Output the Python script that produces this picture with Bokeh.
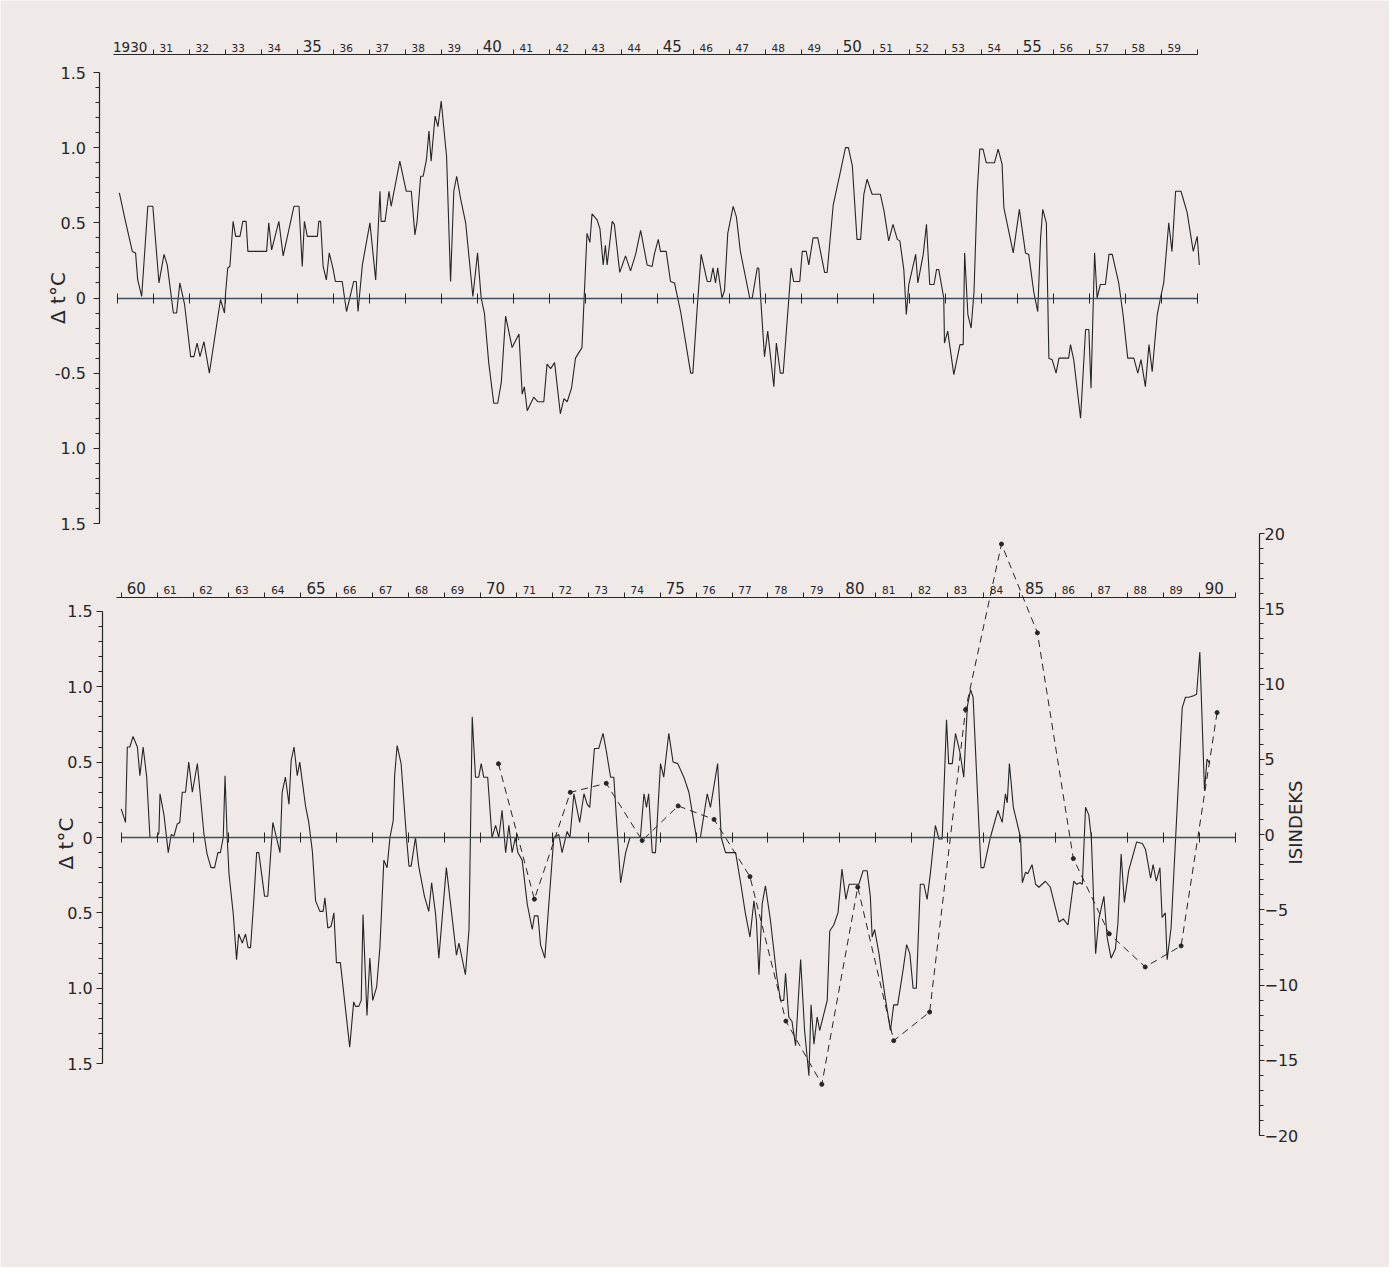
import numpy as np
from bokeh.plotting import figure
from bokeh.models import Range1d, LinearAxis, FixedTicker, Label
from bokeh.embed import file_html
from bokeh.resources import INLINE

# Temperature anomaly, 1930-1959 (year, deg C)
top_t = [1930.06, 1930.23, 1930.42, 1930.51, 1930.57, 1930.68, 1930.85, 1930.99, 1931.16, 1931.30,
         1931.39, 1931.56, 1931.65, 1931.74, 1931.87, 1932.04, 1932.13, 1932.22, 1932.30, 1932.41,
         1932.56, 1932.87, 1932.98, 1933.01, 1933.07, 1933.13, 1933.22, 1933.29, 1933.41, 1933.49,
         1933.58, 1933.63, 1934.15, 1934.21, 1934.29, 1934.49, 1934.61, 1934.91, 1935.05, 1935.14,
         1935.20, 1935.28, 1935.56, 1935.60, 1935.65, 1935.72, 1935.81, 1935.89, 1936.00, 1936.06,
         1936.25, 1936.37, 1936.57, 1936.64, 1936.69, 1936.81, 1937.02, 1937.18, 1937.30, 1937.33,
         1937.44, 1937.55, 1937.61, 1937.85, 1938.03, 1938.17, 1938.27, 1938.33, 1938.43, 1938.50,
         1938.59, 1938.66, 1938.72, 1938.83, 1938.91, 1939.00, 1939.15, 1939.26, 1939.35, 1939.43,
         1939.54, 1939.68, 1939.88, 1940.01, 1940.11, 1940.20, 1940.32, 1940.46, 1940.57, 1940.67,
         1940.79, 1940.97, 1941.16, 1941.25, 1941.31, 1941.39, 1941.57, 1941.68, 1941.85, 1941.94,
         1942.04, 1942.15, 1942.31, 1942.41, 1942.50, 1942.62, 1942.73, 1942.91, 1943.05, 1943.13,
         1943.19, 1943.33, 1943.41, 1943.50, 1943.56, 1943.61, 1943.75, 1943.81, 1943.96, 1944.12,
         1944.26, 1944.40, 1944.54, 1944.72, 1944.86, 1944.92, 1945.03, 1945.09, 1945.25, 1945.37,
         1945.48, 1945.65, 1945.93, 1945.99, 1946.11, 1946.22, 1946.39, 1946.48, 1946.55, 1946.62,
         1946.68, 1946.80, 1946.87, 1946.96, 1947.11, 1947.20, 1947.31, 1947.57, 1947.64, 1947.78,
         1947.82, 1947.98, 1948.07, 1948.24, 1948.31, 1948.42, 1948.50, 1948.72, 1948.79, 1948.96,
         1949.03, 1949.14, 1949.21, 1949.33, 1949.46, 1949.65, 1949.72, 1949.89, 1950.09, 1950.23,
         1950.31, 1950.42, 1950.55, 1950.65, 1950.74, 1950.83, 1950.97, 1951.20, 1951.30, 1951.43,
         1951.55, 1951.67, 1951.74, 1951.85, 1951.92, 1951.99, 1952.18, 1952.24, 1952.39, 1952.48,
         1952.57, 1952.69, 1952.76, 1952.82, 1952.96, 1952.98, 1953.07, 1953.24, 1953.41, 1953.50,
         1953.54, 1953.63, 1953.72, 1953.80, 1953.89, 1953.96, 1954.05, 1954.14, 1954.37, 1954.47,
         1954.58, 1954.63, 1954.89, 1955.06, 1955.23, 1955.32, 1955.46, 1955.57, 1955.65, 1955.71,
         1955.81, 1955.88, 1955.97, 1956.08, 1956.16, 1956.43, 1956.48, 1956.57, 1956.76, 1956.90,
         1956.99, 1957.05, 1957.15, 1957.22, 1957.31, 1957.45, 1957.55, 1957.64, 1957.82, 1957.94,
         1958.07, 1958.24, 1958.35, 1958.44, 1958.56, 1958.66, 1958.75, 1958.89, 1958.98, 1959.07,
         1959.21, 1959.30, 1959.40, 1959.55, 1959.72, 1959.89, 1960.00, 1960.06]
top_dt = [0.70, 0.51, 0.31, 0.30, 0.12, 0.01, 0.61, 0.61, 0.10, 0.29,
          0.22, -0.10, -0.10, 0.10, -0.04, -0.39, -0.39, -0.30, -0.39, -0.29,
          -0.50, -0.01, -0.10, 0.03, 0.20, 0.21, 0.51, 0.41, 0.41, 0.51,
          0.51, 0.31, 0.31, 0.50, 0.32, 0.51, 0.28, 0.61, 0.61, 0.21,
          0.51, 0.41, 0.41, 0.51, 0.51, 0.21, 0.12, 0.30, 0.19, 0.11,
          0.11, -0.09, 0.11, 0.11, -0.09, 0.22, 0.50, 0.12, 0.71, 0.51,
          0.51, 0.71, 0.61, 0.91, 0.71, 0.71, 0.42, 0.51, 0.81, 0.81,
          0.92, 1.11, 0.91, 1.21, 1.14, 1.31, 0.94, 0.11, 0.71, 0.81,
          0.66, 0.50, 0.01, 0.30, 0.00, -0.10, -0.43, -0.70, -0.70, -0.56,
          -0.12, -0.33, -0.24, -0.64, -0.59, -0.75, -0.66, -0.69, -0.69, -0.44,
          -0.47, -0.43, -0.77, -0.67, -0.69, -0.60, -0.40, -0.33, 0.43, 0.37,
          0.56, 0.52, 0.46, 0.22, 0.35, 0.22, 0.51, 0.49, 0.17, 0.28,
          0.18, 0.29, 0.45, 0.22, 0.21, 0.29, 0.39, 0.31, 0.31, 0.11,
          0.10, -0.09, -0.50, -0.50, -0.07, 0.29, 0.11, 0.11, 0.20, 0.10,
          0.20, 0.00, 0.05, 0.43, 0.61, 0.54, 0.31, 0.00, 0.00, 0.20,
          0.20, -0.39, -0.22, -0.59, -0.30, -0.50, -0.50, 0.20, 0.11, 0.11,
          0.31, 0.31, 0.22, 0.40, 0.40, 0.17, 0.17, 0.62, 0.84, 1.00,
          1.00, 0.88, 0.39, 0.39, 0.69, 0.79, 0.69, 0.69, 0.58, 0.38,
          0.49, 0.39, 0.38, 0.19, -0.11, 0.09, 0.29, 0.10, 0.29, 0.49,
          0.09, 0.09, 0.19, 0.19, 0.00, -0.30, -0.22, -0.51, -0.31, -0.31,
          0.30, -0.11, -0.20, 0.04, 0.71, 0.99, 0.99, 0.90, 0.90, 0.99,
          0.89, 0.60, 0.30, 0.59, 0.30, 0.29, 0.04, -0.09, 0.40, 0.59,
          0.50, -0.40, -0.41, -0.50, -0.40, -0.40, -0.31, -0.41, -0.80, -0.21,
          -0.21, -0.60, 0.30, 0.00, 0.09, 0.09, 0.29, 0.29, 0.10, -0.11,
          -0.40, -0.40, -0.50, -0.41, -0.59, -0.31, -0.49, -0.11, 0.00, 0.10,
          0.50, 0.31, 0.71, 0.71, 0.57, 0.31, 0.41, 0.22]

# Temperature anomaly, 1960-1990 (year, deg C)
bot_t = [1960.00, 1960.12, 1960.17, 1960.24, 1960.33, 1960.45, 1960.52, 1960.61, 1960.71, 1960.80,
         1960.98, 1961.05, 1961.08, 1961.19, 1961.31, 1961.39, 1961.47, 1961.56, 1961.63, 1961.70,
         1961.79, 1961.88, 1961.98, 1962.12, 1962.30, 1962.39, 1962.50, 1962.60, 1962.69, 1962.76,
         1962.84, 1962.89, 1962.95, 1963.00, 1963.12, 1963.21, 1963.27, 1963.37, 1963.46, 1963.53,
         1963.60, 1963.69, 1963.77, 1963.83, 1963.99, 1964.08, 1964.22, 1964.30, 1964.42, 1964.48,
         1964.57, 1964.67, 1964.73, 1964.81, 1964.90, 1964.97, 1965.13, 1965.22, 1965.32, 1965.41,
         1965.53, 1965.62, 1965.67, 1965.75, 1965.84, 1965.92, 1965.99, 1966.10, 1966.36, 1966.47,
         1966.52, 1966.61, 1966.68, 1966.73, 1966.84, 1966.92, 1967.00, 1967.11, 1967.20, 1967.31,
         1967.40, 1967.48, 1967.57, 1967.61, 1967.68, 1967.79, 1967.94, 1968.01, 1968.07, 1968.19,
         1968.28, 1968.44, 1968.56, 1968.64, 1968.75, 1968.84, 1969.05, 1969.21, 1969.33, 1969.40,
         1969.58, 1969.68, 1969.77, 1969.86, 1969.95, 1970.02, 1970.09, 1970.20, 1970.32, 1970.42,
         1970.51, 1970.60, 1970.70, 1970.79, 1970.88, 1970.97, 1971.04, 1971.16, 1971.30, 1971.44,
         1971.50, 1971.60, 1971.67, 1971.79, 1972.04, 1972.18, 1972.27, 1972.41, 1972.49, 1972.60,
         1972.76, 1972.88, 1972.97, 1973.04, 1973.17, 1973.29, 1973.41, 1973.49, 1973.62, 1973.71,
         1973.90, 1974.04, 1974.16, 1974.45, 1974.55, 1974.62, 1974.68, 1974.78, 1974.87, 1975.01,
         1975.10, 1975.24, 1975.36, 1975.49, 1975.66, 1975.80, 1975.94, 1976.01, 1976.12, 1976.31,
         1976.40, 1976.60, 1976.70, 1976.82, 1977.10, 1977.24, 1977.37, 1977.50, 1977.61, 1977.68,
         1977.75, 1977.84, 1977.93, 1978.07, 1978.24, 1978.35, 1978.44, 1978.49, 1978.58, 1978.67,
         1978.77, 1978.91, 1979.02, 1979.14, 1979.20, 1979.28, 1979.37, 1979.44, 1979.65, 1979.72,
         1979.83, 1979.95, 1980.06, 1980.17, 1980.26, 1980.53, 1980.65, 1980.76, 1980.85, 1980.90,
         1980.97, 1981.09, 1981.27, 1981.41, 1981.50, 1981.61, 1981.76, 1981.86, 1981.95, 1982.04,
         1982.13, 1982.24, 1982.34, 1982.43, 1982.52, 1982.66, 1982.76, 1982.85, 1982.97, 1983.03,
         1983.13, 1983.22, 1983.34, 1983.45, 1983.55, 1983.64, 1983.71, 1983.87, 1983.93, 1984.01,
         1984.19, 1984.40, 1984.52, 1984.61, 1984.66, 1984.72, 1984.83, 1984.94, 1985.03, 1985.08,
         1985.17, 1985.23, 1985.35, 1985.45, 1985.54, 1985.72, 1985.86, 1986.10, 1986.22, 1986.35,
         1986.51, 1986.59, 1986.68, 1986.75, 1986.84, 1986.93, 1987.00, 1987.12, 1987.21, 1987.35,
         1987.44, 1987.55, 1987.67, 1987.74, 1987.83, 1987.92, 1988.04, 1988.26, 1988.42, 1988.51,
         1988.65, 1988.72, 1988.81, 1988.91, 1988.97, 1989.06, 1989.11, 1989.22, 1989.53, 1989.62,
         1989.71, 1989.85, 1989.93, 1990.02, 1990.15, 1990.22, 1990.30]
bot_dt = [0.19, 0.10, 0.60, 0.60, 0.67, 0.60, 0.41, 0.60, 0.40, 0.00,
          0.00, 0.03, 0.29, 0.15, -0.10, 0.02, 0.01, 0.09, 0.10, 0.30,
          0.30, 0.50, 0.30, 0.49, 0.03, -0.11, -0.20, -0.20, -0.10, -0.10,
          0.00, 0.41, 0.00, -0.24, -0.51, -0.81, -0.64, -0.70, -0.64, -0.73,
          -0.73, -0.42, -0.10, -0.10, -0.39, -0.39, 0.10, 0.02, -0.10, 0.30,
          0.40, 0.22, 0.51, 0.60, 0.41, 0.50, 0.21, 0.10, -0.09, -0.42,
          -0.49, -0.49, -0.40, -0.60, -0.59, -0.50, -0.83, -0.83, -1.39, -1.09,
          -1.12, -1.12, -1.08, -0.51, -1.18, -0.80, -1.08, -0.99, -0.73, -0.15,
          -0.20, 0.00, 0.11, 0.41, 0.61, 0.49, 0.00, -0.19, -0.19, 0.00,
          -0.19, -0.39, -0.49, -0.30, -0.51, -0.80, -0.20, -0.53, -0.78, -0.70,
          -0.91, -0.61, 0.80, 0.40, 0.40, 0.49, 0.40, 0.40, 0.00, 0.08,
          0.00, 0.18, -0.10, 0.08, -0.10, 0.00, -0.10, -0.15, -0.44, -0.61,
          -0.52, -0.52, -0.71, -0.80, 0.00, 0.02, -0.10, 0.04, 0.00, 0.29,
          0.10, 0.29, 0.22, 0.20, 0.59, 0.59, 0.69, 0.59, 0.40, 0.40,
          -0.30, -0.10, 0.00, 0.00, 0.29, 0.20, 0.29, -0.10, -0.10, 0.49,
          0.40, 0.69, 0.50, 0.49, 0.40, 0.30, 0.10, 0.00, 0.00, 0.29,
          0.20, 0.49, 0.00, -0.10, -0.10, -0.30, -0.50, -0.66, -0.42, -0.55,
          -0.91, -0.44, -0.32, -0.55, -0.91, -1.08, -1.08, -0.90, -1.19, -1.22,
          -1.38, -0.81, -1.28, -1.58, -1.11, -1.37, -1.19, -1.28, -1.08, -0.62,
          -0.58, -0.50, -0.21, -0.41, -0.31, -0.31, -0.22, -0.22, -0.39, -0.66,
          -0.61, -0.77, -1.07, -1.28, -1.11, -1.11, -0.88, -0.71, -0.77, -1.00,
          -1.00, -0.31, -0.31, -0.41, -0.24, 0.08, -0.01, -0.01, 0.78, 0.49,
          0.49, 0.69, 0.57, 0.40, 0.87, 0.98, 0.93, 0.09, -0.20, -0.20,
          0.00, 0.18, 0.10, 0.29, 0.23, 0.49, 0.20, 0.09, 0.00, -0.30,
          -0.23, -0.24, -0.18, -0.31, -0.33, -0.29, -0.33, -0.56, -0.54, -0.58,
          -0.29, -0.31, -0.30, -0.31, 0.20, 0.15, 0.00, -0.77, -0.54, -0.39,
          -0.66, -0.80, -0.74, -0.57, -0.11, -0.43, -0.22, -0.03, -0.04, -0.08,
          -0.27, -0.18, -0.29, -0.20, -0.53, -0.50, -0.81, -0.60, 0.86, 0.93,
          0.93, 0.94, 0.95, 1.23, 0.31, 0.52, 0.49]

# Ice index (ISINDEKS), one value per year
ice_year = [1970, 1971, 1972, 1973, 1974, 1975, 1976, 1977, 1978, 1979, 1980,
            1981, 1982, 1983, 1984, 1985, 1986, 1987, 1988, 1989, 1990]
ice_index = [4.7, -4.3, 2.8, 3.4, -0.4, 1.9, 1.0, -2.8, -12.4, -16.6, -3.5,
             -13.7, -11.8, 8.3, 19.3, 13.4, -1.6, -6.6, -8.8, -7.4, 8.1]

top_years = list(range(1930, 1961))
bot_years = list(range(1960, 1992))
temp_ticks = [-1.5, -1.0, -0.5, 0.0, 0.5, 1.0, 1.5]
top_temp_labels = ["1.5", "1.0", "-0.5", "0", "0.5", "1.0", "1.5"]
bot_temp_labels = ["1.5", "1.0", "0.5", "0", "0.5", "1.0", "1.5"]
ice_ticks = [-20, -15, -10, -5, 0, 5, 10, 15, 20]
ice_labels = ["\u221220", "\u221215", "\u221210", "\u22125", "0", "5", "10", "15", "20"]

BG = "#efe9e7"
INK = "#262626"
ZERO = "#3e4f60"
FONT = "DejaVu Sans"

# one canvas; every panel gets its own ranges mapped onto it
W, H = 1389, 1267
PAGE = 0


def hrange(v0, p0, v1, p1):
    k = (v1 - v0) / (p1 - p0)
    return Range1d(v0 + (PAGE - p0) * k, v0 + (PAGE + W - p0) * k)


def vrange(v0, p0, v1, p1):
    k = (v1 - v0) / (p1 - p0)
    return Range1d(v0 + (PAGE + H - p0) * k, v0 + (PAGE - p0) * k)


def xval(r, px):
    return r.start + (px - PAGE) / W * (r.end - r.start)


def yval(r, py):
    return r.end - (py - PAGE) / H * (r.end - r.start)


tx = hrange(1930, 116.7, 1960, 1196.7)
ty = vrange(0, 297.5, 1.5, 297.5 - 225.5)
bx = hrange(1960, 120.7, 1990, 1198.6)
by = vrange(0, 837, 1.5, 837 - 226.2)
iy = vrange(0, 834, 20, 834 - 301)

p = figure(width=W, height=H, x_range=Range1d(0, 1), y_range=Range1d(0, 1),
           x_axis_location=None, y_axis_location=None,
           toolbar_location=None, tools="", output_backend="svg",
           min_border=0, background_fill_color=BG, border_fill_color=BG,
           outline_line_color=None)
p.grid.visible = False
p.extra_x_ranges = {"tx": tx, "bx": bx}
p.extra_y_ranges = {"ty": ty, "by": by, "iy": iy}


def add_axis(side, xr, yr, loc, bounds, ticks, labels=None, minor=None, **kw):
    ax = LinearAxis(x_range_name=xr, y_range_name=yr, fixed_location=loc, bounds=bounds,
                    ticker=FixedTicker(ticks=ticks, minor_ticks=minor or []))
    ax.axis_line_color = INK
    ax.axis_line_width = 1.2
    ax.major_tick_line_color = INK
    ax.minor_tick_line_color = INK
    ax.major_tick_in = 0
    ax.minor_tick_in = 0
    ax.minor_tick_out = 0
    ax.major_label_text_color = INK
    ax.major_label_text_font = FONT
    if labels is None:
        ax.major_label_text_color = None
    else:
        ax.major_label_overrides = dict(zip(ticks, labels))
    for k, v in kw.items():
        setattr(ax, k, v)
    p.add_layout(ax, side)
    return ax


def year_scale(xr, yr, years, line_y, x0, first_big=None):
    # line with a tick at every year boundary, labels just right of the tick
    loc = yval(p.extra_y_ranges[yr], line_y)
    bounds = (x0, years[-1])
    tick_years = years[1:] if first_big else years
    add_axis("above", xr, yr, loc, bounds, tick_years, major_tick_out=5)
    small = [y for y in years[:-1] if y % 5]
    big = [y for y in years[:-1] if y % 5 == 0 and y != first_big]
    add_axis("above", xr, yr, loc, bounds, [y + 0.36 for y in small],
             [str(y % 100) for y in small], axis_line_color=None, major_tick_out=0,
             major_label_standoff=3, major_label_text_font_size="10.5px")
    add_axis("above", xr, yr, loc, bounds, [y + 0.42 for y in big],
             [str(y % 100) for y in big], axis_line_color=None, major_tick_out=0,
             major_label_standoff=3, major_label_text_font_size="15px")
    if first_big:
        add_axis("above", xr, yr, loc, bounds, [first_big + 0.36], [str(first_big)],
                 axis_line_color=None, major_tick_out=0, major_label_standoff=3,
                 major_label_text_font_size="13.5px")


def zero_line(xr, yr, years):
    add_axis("below", xr, yr, 0, (years[0], years[-1]), years,
             axis_line_color=ZERO, axis_line_width=1.3,
             major_tick_in=5, major_tick_out=5)


minor_temp = [round(-1.5 + 0.1 * i, 1) for i in range(31)]
minor_ice = list(range(-20, 21))

# ---- upper panel: 1930-1959 ----
p.line(top_t, top_dt, x_range_name="tx", y_range_name="ty", line_color=INK, line_width=1.1)
zero_line("tx", "ty", top_years)
add_axis("left", "tx", "ty", xval(tx, 98.5), (-1.5, 1.5), temp_ticks, top_temp_labels,
         minor=minor_temp, major_tick_out=6, minor_tick_out=4, major_label_standoff=7,
         major_label_text_font_size="16px")
year_scale("tx", "ty", top_years, 54, 1929.9, first_big=1930)
p.add_layout(Label(x=xval(tx, 57.5), y=0, x_range_name="tx", y_range_name="ty",
                   text="\u0394 t\u00b0C", angle=np.pi / 2, text_align="center",
                   text_baseline="middle", text_font=FONT, text_font_size="20px",
                   text_color=INK))

# ---- lower panel: 1960-1990 with ice index ----
p.line(bot_t, bot_dt, x_range_name="bx", y_range_name="by", line_color=INK, line_width=1.1)
ice_x = [y + 0.5 for y in ice_year]
p.line(ice_x, ice_index, x_range_name="bx", y_range_name="iy", line_color=INK,
       line_width=1.0, line_dash="7 5")
p.scatter(ice_x, ice_index, x_range_name="bx", y_range_name="iy", size=4,
          fill_color=INK, line_color=INK)
zero_line("bx", "by", bot_years)
add_axis("left", "bx", "by", xval(bx, 102.3), (-1.5, 1.5), temp_ticks, bot_temp_labels,
         minor=minor_temp, major_tick_out=6, minor_tick_out=4, major_label_standoff=4,
         major_label_text_font_size="16px")
year_scale("bx", "by", bot_years, 596.5, 1959.87)
add_axis("right", "bx", "iy", xval(bx, 1259), (-20, 20), ice_ticks, ice_labels,
         minor=minor_ice, major_tick_out=5, minor_tick_out=4, major_label_standoff=0,
         major_label_text_font_size="16px")
p.add_layout(Label(x=xval(bx, 65.7), y=yval(by, 843), x_range_name="bx", y_range_name="by",
                   text="\u0394 t\u00b0C", angle=np.pi / 2, text_align="center",
                   text_baseline="middle", text_font=FONT, text_font_size="20px",
                   text_color=INK))
p.add_layout(Label(x=xval(bx, 1295), y=yval(iy, 822), x_range_name="bx", y_range_name="iy",
                   text="ISINDEKS", angle=np.pi / 2, text_align="center",
                   text_baseline="middle", text_font=FONT, text_font_size="18px",
                   text_color=INK))

open("out.html", "w").write(file_html(p, INLINE))
